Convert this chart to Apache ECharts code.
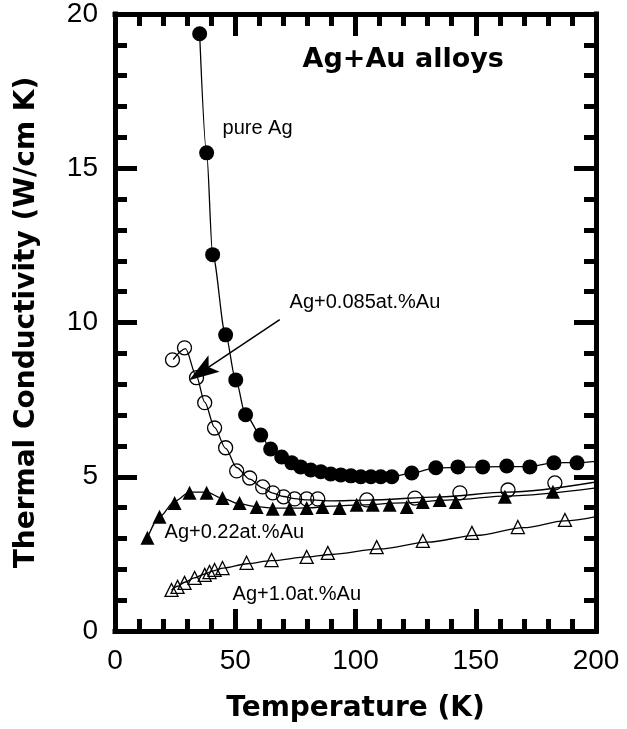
<!DOCTYPE html>
<html>
<head>
<meta charset="utf-8">
<script src="https://cdn.jsdelivr.net/npm/echarts@6/dist/echarts.min.js"></script>
<style>
html, body { margin: 0; padding: 0; background: #fff; }
#main { width: 627px; height: 729px; }
</style>
</head>
<body>
<div id="main"></div>
<script>
// values: temperature (K) and conductivity (W/cm K)
var pureT = [35.2, 38.1, 40.6, 46.0, 50.2, 54.3, 60.6, 64.7, 69.3, 73.5, 77.2, 81.4, 85.6, 89.7, 93.9, 98.1, 102.2, 106.4, 110.5, 115.1, 123.4, 133.4, 142.6, 152.9, 162.9, 172.5, 182.5, 192.1];
var pureK = [19.36, 15.5, 12.2, 9.6, 8.14, 7.01, 6.35, 5.9, 5.64, 5.45, 5.32, 5.22, 5.16, 5.09, 5.06, 5.03, 5.0, 5.0, 5.0, 5.0, 5.12, 5.29, 5.32, 5.32, 5.35, 5.32, 5.45, 5.45];

var au085T = [23.9, 28.9, 33.9, 37.3, 41.4, 46.0, 50.6, 56.0, 61.4, 65.6, 70.1, 74.7, 79.7, 84.3, 104.7, 124.7, 143.4, 163.4, 182.9];
var au085K = [8.79, 9.18, 8.21, 7.4, 6.58, 5.94, 5.19, 4.96, 4.67, 4.48, 4.35, 4.28, 4.28, 4.28, 4.25, 4.31, 4.48, 4.57, 4.8];

var au022T = [13.5, 18.5, 24.8, 31.0, 38.1, 44.7, 51.8, 58.9, 65.6, 72.6, 79.7, 86.3, 93.4, 100.5, 107.2, 114.2, 121.3, 128.0, 135.0, 141.7, 162.1, 182.1];
var au022K = [3.02, 3.7, 4.15, 4.48, 4.48, 4.31, 4.15, 4.02, 3.96, 3.96, 3.99, 4.02, 3.99, 4.09, 4.09, 4.09, 4.02, 4.18, 4.25, 4.18, 4.35, 4.51];

var au10T = [23.5, 26.0, 28.9, 33.1, 37.3, 39.3, 41.4, 44.7, 54.7, 65.1, 79.7, 88.5, 108.8, 128.0, 148.4, 167.5, 187.1];
var au10K = [1.33, 1.43, 1.56, 1.72, 1.82, 1.91, 1.98, 2.04, 2.21, 2.3, 2.4, 2.53, 2.72, 2.92, 3.18, 3.37, 3.6];

// drawn fit curves
var pureFitT = [35.2, 38.1, 40.6, 46.0, 50.2, 54.3, 60.6, 64.7, 69.3, 73.5, 77.2, 81.4, 85.6, 89.7, 93.9, 98.1, 106.4, 115.1, 123.4, 133.4, 152.9, 172.5, 182.5, 192.1, 200];
var pureFitK = [19.36, 15.5, 12.2, 9.6, 8.14, 7.01, 6.35, 5.9, 5.64, 5.45, 5.32, 5.22, 5.16, 5.09, 5.06, 5.03, 5.0, 5.0, 5.12, 5.29, 5.32, 5.33, 5.45, 5.46, 5.5];
var fit085T = [24.2, 29.3, 33.9, 37.3, 41.4, 46.0, 50.6, 56.0, 61.4, 65.6, 70.1, 74.7, 80, 90, 105, 135, 163, 200];
var fit085K = [8.8, 9.15, 8.25, 7.42, 6.6, 5.92, 5.3, 4.92, 4.64, 4.47, 4.36, 4.29, 4.25, 4.22, 4.24, 4.35, 4.5, 4.83];
var fit022T = [13.5, 18.5, 24.8, 31.0, 38.1, 44.7, 51.8, 58.9, 65.6, 72.6, 80, 90, 100, 120, 140, 163, 200];
var fit022K = [3.02, 3.7, 4.2, 4.5, 4.5, 4.3, 4.12, 4.03, 3.98, 3.98, 3.99, 4.05, 4.08, 4.15, 4.25, 4.38, 4.64];
var fit10T = [23.5, 26, 29, 33, 37, 41, 45, 55, 65, 80, 90, 110, 130, 150, 170, 187, 200];
var fit10K = [1.33, 1.45, 1.58, 1.72, 1.84, 1.95, 2.04, 2.18, 2.28, 2.4, 2.48, 2.66, 2.88, 3.1, 3.35, 3.57, 3.71];

var xTicks = [0, 50, 100, 150, 200];
var yTicks = [0, 5, 10, 15, 20];

// text notes [T, K, text] and the arrow (tail, tip)
var notes = [
  [78.0, 18.52, 'Ag+Au alloys'],
  [44.7, 16.28, 'pure Ag'],
  [72.6, 10.64, 'Ag+0.085at.%Au'],
  [20.6, 3.18, 'Ag+0.22at.%Au'],
  [48.9, 1.17, 'Ag+1.0at.%Au']
];
var arrowTail = [68.5, 10.09];
var arrowTip = [36.0, 8.4];

function pairs(xs, ys) {
  return xs.map(function (x, i) { return [x, ys[i]]; });
}

var chart = echarts.init(document.getElementById('main'));

var plotRect = { left: 115, right: 31, top: 14, bottom: 98 };
var tickFont = { fontFamily: 'Liberation Sans', fontSize: 28, color: '#000' };
var nameFont = { fontFamily: 'DejaVu Sans', fontWeight: 'bold', fontSize: 28, color: '#000' };

// grid 0 carries the frame, major ticks and labels; grid 1 (same rect) only the minor ticks
function axisCfg(kind, pos, grid, step, labels) {
  var major = grid === 0;
  var ticks = kind === 'x' ? xTicks : yTicks;
  return {
    type: 'value', gridIndex: grid, position: pos,
    min: ticks[0], max: ticks[ticks.length - 1], interval: step,
    axisLine: { show: major, onZero: false, lineStyle: { color: '#000', width: 5, cap: 'square' } },
    axisTick: { inside: true, length: major ? 22 : 12, lineStyle: { color: '#000', width: 5 } },
    splitLine: { show: false },
    axisLabel: Object.assign({ show: labels, margin: kind === 'x' ? 16 : 17 }, tickFont)
  };
}

var xBottom = axisCfg('x', 'bottom', 0, 50, true);
xBottom.name = 'Temperature (K)';
xBottom.nameLocation = 'middle';
xBottom.nameGap = 64;
xBottom.nameTextStyle = nameFont;
var yLeft = axisCfg('y', 'left', 0, 5, true);
yLeft.name = 'Thermal Conductivity (W/cm K)';
yLeft.nameLocation = 'middle';
yLeft.nameGap = 74;
yLeft.nameTextStyle = nameFont;

function curve(xs, ys) {
  return {
    type: 'line', data: pairs(xs, ys), showSymbol: false, smooth: 0.3, smoothMonotone: 'x',
    lineStyle: { color: '#000', width: 1.3 }, z: 2, silent: true
  };
}
function points(xs, ys, symbol, size, filled) {
  return {
    type: 'scatter', data: pairs(xs, ys), symbol: symbol, symbolSize: size,
    itemStyle: filled ? { color: '#000', opacity: 1 } : { color: 'rgba(0,0,0,0)', borderColor: '#000', borderWidth: 1.3, opacity: 1 },
    z: 3, silent: true
  };
}

var noteData = notes.map(function (n, i) {
  var item = { value: n };
  if (i === 0) {
    item.label = { fontFamily: 'DejaVu Sans', fontWeight: 'bold', fontSize: 27, color: '#000' };
  }
  return item;
});

chart.setOption({
  animation: false,
  backgroundColor: '#fff',
  grid: [Object.assign({}, plotRect), Object.assign({}, plotRect)],
  xAxis: [
    xBottom,
    axisCfg('x', 'top', 0, 50, false),
    axisCfg('x', 'bottom', 1, 10, false),
    axisCfg('x', 'top', 1, 10, false)
  ],
  yAxis: [
    yLeft,
    axisCfg('y', 'right', 0, 5, false),
    axisCfg('y', 'left', 1, 1, false),
    axisCfg('y', 'right', 1, 1, false)
  ],
  series: [
    curve(pureFitT, pureFitK),
    curve(fit085T, fit085K),
    curve(fit022T, fit022K),
    curve(fit10T, fit10K),
    points(pureT, pureK, 'circle', 15, true),
    points(au085T, au085K, 'circle', 14, false),
    points(au022T, au022K, 'triangle', 14, true),
    points(au10T, au10K, 'triangle', 13, false),
    {
      type: 'scatter', data: noteData, symbolSize: 0, silent: true, z: 5,
      itemStyle: { opacity: 1 },
      label: {
        show: true, position: 'right', distance: 0, color: '#000', opacity: 1,
        fontFamily: 'Liberation Sans', fontSize: 20,
        formatter: function (p) { return p.value[2]; }
      },
      markLine: {
        silent: true, animation: false,
        label: { show: false },
        lineStyle: { color: '#000', width: 1.5, type: 'solid', opacity: 1 },
        data: [[
          { coord: arrowTail, symbol: 'none' },
          { coord: arrowTip, symbol: 'path://M5,0L10,14L5,11L0,14Z', symbolSize: [20, 30] }
        ]]
      }
    }
  ]
});
</script>
</body>
</html>
